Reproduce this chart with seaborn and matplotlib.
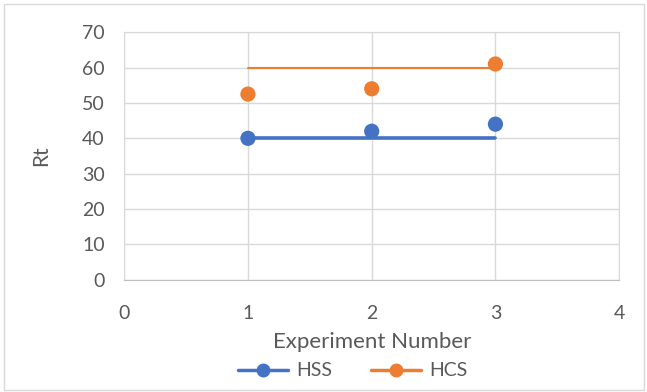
import matplotlib
matplotlib.use("Agg")
import matplotlib.pyplot as plt
import seaborn as sns
import pandas as pd
from matplotlib.lines import Line2D

# data
experiment = [1, 2, 3]
hss = [40, 42, 44]
hcs = [52.5, 54, 61]
hss_line = [40, 40, 40]
hcs_line = [60, 60, 60]

blue = "#4472C4"
orange = "#ED7D31"
grey_txt = "#595959"

sns.set_style("white")
plt.rcParams["font.family"] = ["Lato", "DejaVu Sans"]

df = pd.DataFrame({
    "Experiment Number": experiment * 2,
    "Rt": hss + hcs,
    "series": ["HSS"] * 3 + ["HCS"] * 3,
})

fig = plt.figure(figsize=(6.47, 3.92), dpi=100)
ax = fig.add_axes([0.192, 0.286, 0.765, 0.632])

# horizontal reference lines
sns.lineplot(x=experiment, y=hss_line, color=blue, linewidth=2.6, ax=ax, zorder=2)
sns.lineplot(x=experiment, y=hcs_line, color=orange, linewidth=1.5, ax=ax, zorder=2)

sns.scatterplot(data=df, x="Experiment Number", y="Rt", hue="series",
                palette={"HSS": blue, "HCS": orange}, s=120, linewidth=0,
                legend=False, ax=ax, zorder=3)

ax.set_xlim(0, 4)
ax.set_ylim(0, 70)
ax.set_xticks(range(0, 5))
ax.set_yticks(range(0, 71, 10))
ax.grid(True, color="#D9D9D9", linewidth=1)
ax.set_axisbelow(True)
for side in ["top", "right", "left"]:
    ax.spines[side].set_color("#D9D9D9")
ax.spines["bottom"].set_color("#BFBFBF")
ax.tick_params(axis="both", length=0, labelsize=14, colors=grey_txt)
ax.tick_params(axis="x", pad=18)
ax.tick_params(axis="y", pad=14)
ax.set_xlabel("Experiment Number", fontsize=16, color=grey_txt, labelpad=7)
ax.set_ylabel("Rt", fontsize=15, color=grey_txt, labelpad=22)

handles = [
    Line2D([0], [0], color=blue, linewidth=2.5, marker="o", markersize=9),
    Line2D([0], [0], color=orange, linewidth=2.5, marker="o", markersize=9),
]
leg = fig.legend(handles, ["HSS", "HCS"], loc="center", bbox_to_anchor=(0.545, 0.054),
                 ncol=2, frameon=False, fontsize=14, handlelength=2.6,
                 columnspacing=2.0, handletextpad=0.4)
for t in leg.get_texts():
    t.set_color(grey_txt)

# outer chart border
fig.patches.append(plt.Rectangle((0.006, 0.006), 0.99, 0.985, transform=fig.transFigure,
                                 fill=False, edgecolor="#D9D9D9", linewidth=1))

fig.savefig("out.png", dpi=100)
